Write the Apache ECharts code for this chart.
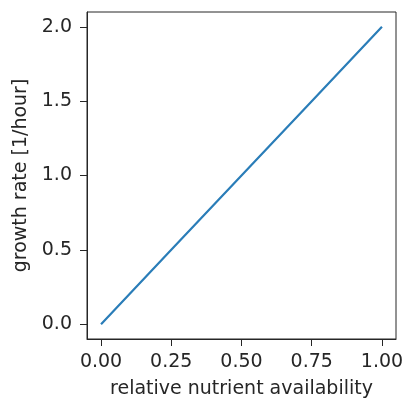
<!DOCTYPE html>
<html>
<head>
<meta charset="utf-8">
<script src="https://cdn.jsdelivr.net/npm/echarts@6/dist/echarts.min.js"></script>
<style>html,body{margin:0;padding:0;background:#fff;}#c{width:404px;height:400px;}</style>
</head>
<body>
<div id="c"></div>
<script>
var xValues = [0, 0.25, 0.5, 0.75, 1.0];
var yValues = [0, 0.5, 1.0, 1.5, 2.0];
var xTicks = [0, 0.25, 0.5, 0.75, 1.0];
var yTicks = [0, 0.5, 1.0, 1.5, 2.0];
var xTitle = 'relative nutrient availability';
var yTitle = 'growth rate [1/hour]';

var data = xValues.map(function (x, i) { return [x, yValues[i]]; });
var txt = '#262626';
var font = 'DejaVu Sans';
var chart = echarts.init(document.getElementById('c'), null, {renderer: 'canvas'});
chart.setOption({
  animation: false,
  grid: {left: 87, top: 12, right: 8, bottom: 61, show: true, borderColor: '#262626', borderWidth: 1,
    backgroundColor: 'transparent', outerBoundsMode: 'none', containLabel: false},
  xAxis: {
    type: 'value', min: -0.05, max: 1.05,
    name: xTitle, nameLocation: 'middle', nameGap: 41,
    nameTextStyle: {fontFamily: font, fontSize: 19, color: txt},
    axisLine: {show: true, onZero: false, lineStyle: {color: '#262626', width: 1}},
    axisTick: {show: true, length: 7, customValues: xTicks, lineStyle: {color: '#262626'}},
    axisLabel: {customValues: xTicks, margin: 14, fontFamily: font, fontSize: 19, color: txt,
      formatter: function (v) { return v.toFixed(2); }},
    splitLine: {show: false}
  },
  yAxis: {
    type: 'value', min: -0.1, max: 2.1,
    name: yTitle, nameLocation: 'middle', nameGap: 54,
    nameTextStyle: {fontFamily: font, fontSize: 19, color: txt},
    axisLine: {show: true, onZero: false, lineStyle: {color: '#262626', width: 1}},
    axisTick: {show: true, length: 7, customValues: yTicks, lineStyle: {color: '#262626'}},
    axisLabel: {customValues: yTicks, margin: 15, fontFamily: font, fontSize: 19, color: txt,
      formatter: function (v) { return v.toFixed(1); }},
    splitLine: {show: false}
  },
  series: [{
    type: 'line', data: data, showSymbol: false, symbol: 'none',
    lineStyle: {color: '#2a7db8', width: 2.2}
  }]
});
</script>
</body>
</html>
